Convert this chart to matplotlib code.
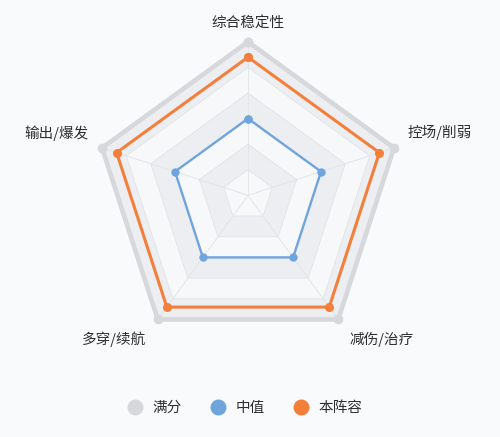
import numpy as np
import matplotlib
matplotlib.use('Agg')
import matplotlib.pyplot as plt
from matplotlib.lines import Line2D

plt.rcParams['font.family'] = ['Noto Sans CJK SC', 'DejaVu Sans']

# 数据
indicators = ['综合稳定性', '控场/削弱', '减伤/治疗', '多穿/续航', '输出/爆发']
full_scores = [100, 100, 100, 100, 100]
median_scores = [50, 50, 50, 50, 50]
team_scores = [90, 90, 90, 90, 90]
series_names = ['满分', '中值', '本阵容']

max_value = 100
split_number = 6

# 标签偏移(像素, 相对顶点)
label_offsets = [(0, 18), (46, 15), (43, -20), (-44, -20), (-46, 15)]

colors = ['#d6d8db', '#6fa4dd', '#f47f3a']
bg_color = '#f9fafc'
band_colors = ['#f7f8fa', '#eceef1']

n = len(indicators)
angles = np.linspace(0, 2 * np.pi, n, endpoint=False)
closed_angles = np.concatenate([angles, angles[:1]])

fig = plt.figure(figsize=(5.0, 4.37), dpi=100)
fig.patch.set_facecolor(bg_color)
ax = fig.add_axes([0.189, 0.2018, 0.614, 0.7025], projection='polar')
ax.set_facecolor('none')
ax.set_theta_offset(np.pi / 2)
ax.set_theta_direction(-1)
ax.set_ylim(0, max_value)
ax.grid(False)
ax.spines['polar'].set_visible(False)
ax.set_xticks([])
ax.set_yticks([])

# 分隔区域 (由外向内画)
levels = np.linspace(0, max_value, split_number + 1)[1:]
for i in range(split_number - 1, -1, -1):
  r = levels[i]
  ax.fill(closed_angles, [r] * (n + 1), color=band_colors[i % 2], zorder=1, lw=0)
  ax.plot(closed_angles, [r] * (n + 1), color='#e1e3e6', lw=0.6, zorder=2)

# 轴线
for a in angles:
  ax.plot([a, a], [0, max_value], color='#e1e3e6', lw=0.6, zorder=2)

# 系列
all_series = [full_scores, median_scores, team_scores]
line_widths = [3.3, 1.7, 2.2]
marker_sizes = [7, 6, 6.5]
for vals, c, lw, ms in zip(all_series, colors, line_widths, marker_sizes):
  v = list(vals) + [vals[0]]
  ax.plot(closed_angles, v, color=c, lw=lw, marker='o', markersize=ms,
    markeredgewidth=0, zorder=3, clip_on=False, solid_joinstyle='miter')

# 指标名称
for a, name, off in zip(angles, indicators, label_offsets):
  ax.annotate(name, xy=(a, max_value), xytext=(off[0] * 0.72, off[1] * 0.72),
    textcoords='offset points', ha='center', va='center', fontsize=10.5,
    color='#2f2f2f', annotation_clip=False)

# 图例
handles = [Line2D([], [], linestyle='none', marker='o', markersize=11.5,
  markerfacecolor=c, markeredgewidth=0) for c in colors]
fig.legend(handles, series_names, loc='center', bbox_to_anchor=(0.49, 1 - 408 / 437),
  ncol=3, frameon=False, fontsize=10.5, handlelength=1.0, handletextpad=0.7,
  columnspacing=2.0, labelcolor='#2f2f2f')

plt.savefig('out.png', dpi=100, facecolor=bg_color)
